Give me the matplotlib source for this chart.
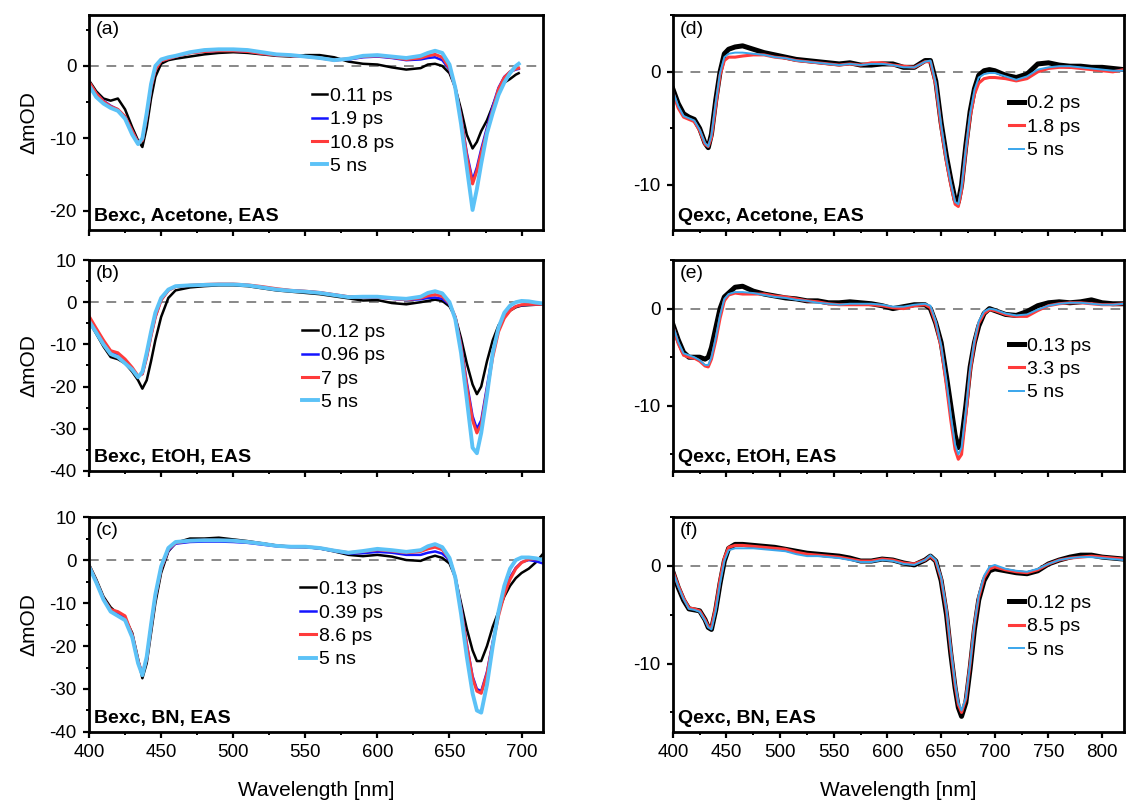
import numpy as np
import matplotlib
matplotlib.use('Agg')
import matplotlib.pyplot as plt
from matplotlib.ticker import MultipleLocator

plt.rcParams['font.family'] = ['Liberation Sans', 'DejaVu Sans']
plt.rcParams['axes.unicode_minus'] = False

# ---- wavelength grids (nm) ----
wl_a = [400, 405, 410, 415, 420, 425, 430, 434, 437, 440, 443, 446, 450, 455, 460, 470, 480, 490,
        500, 510, 520, 530, 540, 550, 560, 570, 580, 590, 600, 610, 620, 630, 635, 640, 645, 650,
        654, 658, 662, 666, 669, 672, 676, 680, 684, 688, 692, 696, 698]
wl_bc = [400, 405, 410, 415, 420, 425, 430, 434, 437, 440, 443, 446, 450, 455, 460, 470, 480, 490,
         500, 510, 520, 530, 540, 550, 560, 570, 580, 590, 600, 610, 620, 630, 635, 640, 645, 650,
         654, 658, 662, 666, 669, 672, 676, 680, 684, 688, 692, 696, 700, 705, 710, 715]
wl_def = [400, 405, 410, 415, 420, 425, 430, 433, 436, 440, 444, 448, 452, 458, 465, 475, 485, 495,
          505, 515, 525, 535, 545, 555, 565, 575, 585, 595, 605, 615, 625, 635, 640, 645, 650, 655,
          659, 663, 666, 669, 673, 677, 681, 685, 690, 695, 700, 710, 720, 730, 740, 750, 760, 770,
          780, 790, 800, 810, 820]

# ---- (a) Bexc, Acetone ----
a_011ps = [-2.0, -3.5, -4.5, -4.8, -4.5, -6.0, -8.5, -10.3, -11.2, -8.5, -4.5, -1.5, 0.3, 0.8, 1.0,
           1.3, 1.6, 1.8, 1.9, 1.8, 1.6, 1.4, 1.3, 1.5, 1.5, 1.2, 0.6, 0.3, 0.2, -0.2, -0.5, -0.3,
           0.2, 0.3, 0.0, -1.0, -3.0, -6.0, -9.5, -11.4, -10.5, -9.0, -7.5, -5.5, -3.5, -2.3, -1.8,
           -1.2, -1.0]
a_19ps = [-2.2, -3.8, -4.8, -5.5, -6.0, -7.0, -9.0, -10.5, -10.2, -7.0, -3.0, -0.5, 0.7, 1.0, 1.3,
          1.8, 2.0, 2.1, 2.1, 2.0, 1.7, 1.5, 1.4, 1.3, 1.1, 0.8, 0.9, 1.2, 1.3, 1.1, 0.8, 0.9, 1.1,
          1.2, 0.8, -0.5, -3.0, -7.0, -12.0, -15.8, -14.0, -11.5, -8.5, -5.5, -3.0, -1.5, -0.8,
          -0.5, -0.4]
a_108ps = [-2.2, -3.8, -4.9, -5.6, -6.0, -7.0, -9.0, -10.6, -10.3, -7.0, -3.0, -0.5, 0.7, 1.0, 1.3,
           1.8, 2.0, 2.1, 2.1, 2.0, 1.7, 1.5, 1.4, 1.3, 1.1, 0.8, 1.0, 1.3, 1.4, 1.2, 0.9, 1.1, 1.4,
           1.6, 1.2, -0.3, -3.0, -7.2, -12.5, -16.3, -14.5, -12.0, -9.0, -6.0, -3.2, -1.6, -0.8,
           -0.4, -0.3]
a_5ns = [-2.7, -4.3, -5.2, -5.8, -6.2, -7.3, -9.5, -10.8, -10.0, -6.5, -2.5, 0.0, 0.9, 1.2, 1.4,
         1.9, 2.2, 2.3, 2.3, 2.2, 1.9, 1.6, 1.5, 1.3, 1.1, 0.8, 1.0, 1.4, 1.5, 1.3, 1.1, 1.4, 1.8,
         2.1, 1.8, 0.2, -3.0, -8.0, -14.0, -19.9, -17.0, -13.5, -9.3, -6.5, -4.0, -2.3, -1.0, 0.0,
         0.3]

# ---- (b) Bexc, EtOH ----
b_012ps = [-4.5, -7.5, -10.5, -13.0, -13.5, -14.5, -16.5, -18.5, -20.5, -18.5, -14.0, -9.0, -3.5,
           1.0, 2.8, 3.5, 3.8, 4.0, 4.0, 3.8, 3.3, 2.8, 2.5, 2.2, 1.9, 1.4, 0.9, 0.4, 0.5, -0.2,
           -0.5, 0.0, 0.3, 0.6, 0.3, -1.0, -3.5, -8.5, -14.5, -19.5, -21.8, -20.0, -14.0, -9.0,
           -5.5, -3.5, -2.0, -1.2, -0.8, -0.7, -0.6, -0.5]
b_096ps = [-4.3, -7.0, -9.8, -12.0, -12.5, -14.0, -15.8, -17.5, -17.0, -13.0, -8.0, -3.5, 0.5,
           2.8, 3.7, 4.0, 4.1, 4.2, 4.2, 4.0, 3.6, 3.1, 2.8, 2.6, 2.3, 1.8, 1.3, 1.2, 1.1, 0.8, 0.5,
           0.7, 1.0, 1.1, 0.8, -0.5, -3.5, -10.0, -19.0, -27.0, -30.0, -28.0, -20.0, -12.0, -6.5,
           -3.5, -1.8, -1.0, -0.7, -0.6, -0.5, -0.5]
b_7ps = [-3.3, -6.2, -9.0, -11.5, -12.0, -13.5, -15.5, -17.5, -17.0, -13.0, -8.0, -3.5, 0.5, 2.8,
         3.7, 4.0, 4.2, 4.3, 4.3, 4.1, 3.7, 3.2, 2.8, 2.6, 2.3, 1.8, 1.3, 1.3, 1.2, 0.9, 0.6, 1.0,
         1.5, 1.8, 1.4, -0.3, -3.5, -10.5, -20.0, -28.0, -31.0, -29.0, -21.0, -13.0, -7.0, -3.8,
         -2.0, -1.0, -0.6, -0.5, -0.5, -0.5]
b_5ns = [-4.5, -7.2, -10.0, -12.3, -13.0, -14.5, -16.0, -17.8, -16.5, -12.0, -7.0, -2.5, 1.0, 3.0,
         3.8, 4.0, 4.1, 4.2, 4.2, 4.0, 3.5, 3.0, 2.7, 2.5, 2.2, 1.7, 1.2, 1.3, 1.3, 1.0, 0.8, 1.3,
         2.2, 2.6, 2.1, 0.0, -4.0, -12.0, -23.0, -34.5, -35.8, -31.0, -22.0, -12.0, -6.0, -2.5,
         -0.8, 0.0, 0.3, 0.2, -0.1, -0.3]

# ---- (c) Bexc, BN ----
c_013ps = [-1.0, -4.5, -8.5, -11.0, -12.5, -13.5, -17.0, -23.0, -27.5, -24.0, -17.0, -10.0, -3.0,
           2.0, 4.0, 5.0, 5.0, 5.2, 4.8, 4.4, 3.9, 3.4, 3.1, 3.0, 2.7, 2.0, 1.2, 0.9, 1.2, 0.8, 0.0,
           -0.2, 0.5, 1.0, 0.5, -0.8, -4.0, -10.0, -16.0, -21.0, -23.5, -23.5, -20.0, -15.5, -12.0,
           -8.5, -6.0, -4.2, -3.0, -2.0, -0.5, 1.5]
c_039ps = [-1.5, -5.0, -9.0, -11.8, -12.5, -13.5, -17.5, -23.5, -26.5, -23.0, -15.5, -8.5, -2.0,
           2.2, 3.8, 4.2, 4.3, 4.3, 4.2, 4.0, 3.6, 3.2, 3.0, 3.0, 2.7, 2.1, 1.5, 1.6, 1.9, 1.7, 1.2,
           1.2, 1.7, 2.0, 1.5, 0.0, -4.0, -11.0, -19.5, -27.0, -30.0, -30.5, -26.0, -19.0, -12.5,
           -7.5, -4.0, -1.8, -0.5, 0.0, -0.3, -0.8]
c_86ps = [-1.3, -5.0, -9.0, -11.5, -12.0, -13.0, -17.5, -23.5, -26.5, -23.0, -15.5, -8.5, -2.0,
          2.5, 4.0, 4.5, 4.6, 4.6, 4.5, 4.2, 3.8, 3.3, 3.1, 3.1, 2.8, 2.2, 1.7, 2.0, 2.4, 2.1, 1.7,
          2.0, 2.6, 3.0, 2.4, 0.3, -4.0, -11.5, -20.0, -27.5, -30.5, -31.0, -26.5, -19.5, -13.0,
          -8.0, -4.5, -2.0, -0.6, 0.2, 0.3, 0.0]
c_5ns = [-1.5, -5.2, -9.2, -12.0, -13.0, -14.0, -18.0, -24.0, -26.8, -22.5, -15.0, -8.0, -1.5,
         2.8, 4.2, 4.5, 4.6, 4.6, 4.5, 4.2, 3.8, 3.3, 3.1, 3.1, 2.8, 2.2, 1.7, 2.1, 2.6, 2.3, 1.9,
         2.3, 3.2, 3.7, 3.0, 0.5, -4.0, -12.5, -22.5, -31.0, -35.0, -35.5, -29.0, -20.0, -12.0,
         -6.0, -2.0, 0.0, 0.6, 0.6, 0.4, 0.0]

# ---- (d) Qexc, Acetone ----
d_02ps = [-1.5, -2.8, -3.7, -4.0, -4.2, -5.0, -6.3, -6.7, -5.5, -2.5, 0.0, 1.6, 2.0, 2.2, 2.3, 2.0,
          1.7, 1.5, 1.3, 1.1, 1.0, 0.9, 0.8, 0.7, 0.8, 0.6, 0.6, 0.7, 0.7, 0.4, 0.4, 1.0, 1.0, -0.8,
          -4.5, -7.5, -9.5, -11.3, -11.5, -10.0, -6.5, -3.5, -1.5, -0.3, 0.1, 0.2, 0.1, -0.3, -0.5,
          -0.2, 0.7, 0.8, 0.6, 0.5, 0.5, 0.4, 0.4, 0.3, 0.2]
d_18ps = [-1.8, -3.2, -4.0, -4.2, -4.4, -5.2, -6.4, -6.6, -5.8, -3.0, -0.3, 1.0, 1.3, 1.3, 1.4, 1.5,
          1.5, 1.3, 1.2, 1.0, 0.9, 0.8, 0.7, 0.6, 0.7, 0.6, 0.8, 0.8, 0.6, 0.5, 0.4, 0.9, 0.9, -1.2,
          -5.0, -8.0, -10.0, -11.7, -11.9, -10.5, -7.0, -4.0, -2.0, -1.0, -0.6, -0.5, -0.5, -0.6,
          -0.8, -0.6, 0.0, 0.3, 0.4, 0.4, 0.3, 0.2, 0.1, 0.0, 0.2]
d_5ns = [-1.7, -3.0, -3.9, -4.1, -4.3, -5.1, -6.3, -6.6, -5.6, -2.7, -0.1, 1.3, 1.6, 1.7, 1.7, 1.6,
         1.5, 1.3, 1.2, 1.0, 0.9, 0.8, 0.7, 0.6, 0.7, 0.6, 0.7, 0.7, 0.6, 0.4, 0.4, 0.9, 1.0, -1.0,
         -4.7, -7.8, -9.8, -11.5, -11.7, -10.2, -6.8, -3.7, -1.6, -0.5, -0.2, -0.1, -0.1, -0.4,
         -0.7, -0.4, 0.2, 0.4, 0.5, 0.5, 0.4, 0.3, 0.2, 0.1, 0.1]

# ---- (e) Qexc, EtOH ----
e_013ps = [-1.6, -3.2, -4.5, -5.0, -5.0, -5.0, -5.2, -5.0, -4.0, -2.0, 0.0, 1.2, 1.6, 2.2, 2.3, 1.8,
           1.5, 1.3, 1.1, 1.0, 0.8, 0.8, 0.6, 0.6, 0.7, 0.6, 0.5, 0.3, 0.0, 0.2, 0.4, 0.4, 0.0,
           -1.5, -3.5, -7.0, -10.0, -13.0, -14.3, -13.5, -10.0, -6.0, -3.5, -1.8, -0.5, 0.0, -0.2,
           -0.6, -0.7, -0.3, 0.3, 0.6, 0.7, 0.6, 0.7, 0.9, 0.6, 0.5, 0.5]
e_33ps = [-1.8, -3.6, -4.8, -5.0, -5.1, -5.4, -5.9, -6.0, -5.2, -3.3, -1.0, 0.8, 1.4, 1.6, 1.5, 1.5,
          1.5, 1.3, 1.2, 1.0, 0.8, 0.7, 0.5, 0.4, 0.4, 0.4, 0.4, 0.3, 0.1, 0.0, 0.3, 0.4, 0.1, -1.5,
          -4.0, -8.0, -11.5, -14.5, -15.5, -15.0, -11.0, -6.5, -3.5, -1.5, -0.5, -0.1, -0.2, -0.6,
          -0.8, -0.8, -0.2, 0.3, 0.5, 0.6, 0.6, 0.5, 0.4, 0.4, 0.5]
e_5ns = [-1.7, -3.4, -4.6, -4.8, -5.0, -5.3, -5.8, -5.8, -5.0, -3.0, -0.7, 1.0, 1.5, 1.7, 1.7, 1.6,
         1.4, 1.2, 1.1, 0.9, 0.8, 0.6, 0.5, 0.4, 0.5, 0.5, 0.5, 0.4, 0.2, 0.2, 0.4, 0.5, 0.3, -1.3,
         -3.8, -7.5, -11.0, -14.0, -15.0, -14.3, -10.5, -6.2, -3.3, -1.3, -0.3, 0.0, -0.1, -0.5,
         -0.7, -0.6, -0.1, 0.3, 0.5, 0.6, 0.6, 0.5, 0.4, 0.4, 0.5]

# ---- (f) Qexc, BN ----
f_012ps = [-0.6, -2.2, -3.5, -4.4, -4.5, -4.6, -5.5, -6.3, -6.5, -4.5, -1.8, 0.5, 1.8, 2.2, 2.2, 2.1,
           2.0, 1.9, 1.7, 1.5, 1.3, 1.2, 1.1, 1.0, 0.8, 0.5, 0.5, 0.7, 0.6, 0.3, 0.1, 0.6, 1.0, 0.5,
           -1.5, -5.0, -9.0, -12.5, -14.5, -15.4, -14.0, -10.5, -6.5, -3.5, -1.5, -0.5, -0.3, -0.5,
           -0.7, -0.8, -0.5, 0.2, 0.6, 0.9, 1.1, 1.1, 0.9, 0.8, 0.7]
f_85ps = [-0.5, -2.0, -3.3, -4.3, -4.4, -4.6, -5.5, -6.2, -6.3, -4.2, -1.4, 0.8, 1.9, 2.1, 2.1, 2.0,
          1.9, 1.8, 1.7, 1.4, 1.2, 1.1, 1.0, 0.9, 0.7, 0.5, 0.5, 0.7, 0.6, 0.3, 0.2, 0.6, 1.0, 0.5,
          -1.3, -4.6, -8.6, -12.2, -14.2, -15.0, -13.6, -10.0, -6.0, -3.2, -1.2, -0.3, -0.1, -0.4,
          -0.6, -0.7, -0.4, 0.2, 0.6, 0.8, 0.9, 1.0, 0.9, 0.8, 0.7]
f_5ns = [-0.6, -2.1, -3.4, -4.4, -4.5, -4.7, -5.6, -6.3, -6.5, -4.6, -1.8, 0.5, 1.6, 1.8, 1.8, 1.8,
         1.7, 1.6, 1.5, 1.2, 1.0, 1.0, 0.9, 0.8, 0.6, 0.4, 0.4, 0.6, 0.5, 0.2, 0.1, 0.6, 1.1, 0.6,
         -1.2, -4.5, -8.5, -12.0, -14.0, -14.8, -13.5, -10.0, -6.0, -3.0, -1.0, -0.1, 0.1, -0.3,
         -0.5, -0.6, -0.3, 0.2, 0.6, 0.8, 0.9, 0.9, 0.8, 0.7, 0.6]

# colours / widths per series position
BLACK, BLUE, RED = '#000000', '#1414ff', '#ff3b3b'
LBLUE_L, LBLUE_R = '#5cc2f7', '#3aa6ec'
left_style = [(BLACK, 1.8), (BLUE, 1.8), (RED, 2.2), (LBLUE_L, 2.8)]
right_style = [(BLACK, 3.6), (RED, 2.2), (LBLUE_R, 1.4)]

panels = [
    # (pos, wl, series, labels, ylim, tag, title, legend x, legend top, style)
    ([0.079, 0.714, 0.403, 0.267], wl_a, [a_011ps, a_19ps, a_108ps, a_5ns],
     ['0.11 ps', '1.9 ps', '10.8 ps', '5 ns'], (-22.7, 7), '(a)', 'Bexc, Acetone, EAS', 0.49, 0.665, left_style),
    ([0.079, 0.415, 0.403, 0.262], wl_bc, [b_012ps, b_096ps, b_7ps, b_5ns],
     ['0.12 ps', '0.96 ps', '7 ps', '5 ns'], (-40, 10), '(b)', 'Bexc, EtOH, EAS', 0.47, 0.70, left_style),
    ([0.079, 0.0907, 0.403, 0.267], wl_bc, [c_013ps, c_039ps, c_86ps, c_5ns],
     ['0.13 ps', '0.39 ps', '8.6 ps', '5 ns'], (-40, 10), '(c)', 'Bexc, BN, EAS', 0.465, 0.705, left_style),
    ([0.597, 0.714, 0.400, 0.267], wl_def, [d_02ps, d_18ps, d_5ns],
     ['0.2 ps', '1.8 ps', '5 ns'], (-14, 5), '(d)', 'Qexc, Acetone, EAS', 0.745, 0.63, right_style),
    ([0.597, 0.415, 0.400, 0.262], wl_def, [e_013ps, e_33ps, e_5ns],
     ['0.13 ps', '3.3 ps', '5 ns'], (-16.7, 5), '(e)', 'Qexc, EtOH, EAS', 0.745, 0.635, right_style),
    ([0.597, 0.0907, 0.400, 0.267], wl_def, [f_012ps, f_85ps, f_5ns],
     ['0.12 ps', '8.5 ps', '5 ns'], (-17, 5), '(f)', 'Qexc, BN, EAS', 0.745, 0.64, right_style),
]

fig = plt.figure(figsize=(11.27, 8.05), dpi=100)

for i, (pos, wl, series, labels, ylim, tag, title, lx, ly, style) in enumerate(panels):
    ax = fig.add_axes(pos)
    left_col = i < 3
    for ys, lab, (col, lw) in zip(series, labels, style):
        ax.plot(wl, ys, color=col, lw=lw, label=lab, solid_joinstyle='round')
    ax.axhline(0, color='#888888', lw=1.4, ls=(0, (5, 4)), zorder=0)

    ax.set_xlim(400, 715 if left_col else 820)
    ax.set_ylim(*ylim)
    ax.xaxis.set_major_locator(MultipleLocator(50))
    ax.xaxis.set_minor_locator(MultipleLocator(25))
    ax.yaxis.set_major_locator(MultipleLocator(10))
    ax.yaxis.set_minor_locator(MultipleLocator(5))
    ax.tick_params(which='major', direction='out', length=4, width=1.6, labelsize=13.5,
                   pad=5, top=False, right=False)
    ax.tick_params(which='minor', direction='out', length=2.5, width=1.4, top=False, right=False)
    for sp in ax.spines.values():
        sp.set_linewidth(2.0)

    if i in (2, 5):
        ax.set_xlabel('Wavelength [nm]', fontsize=15, labelpad=14)
    else:
        ax.tick_params(axis='x', labelbottom=False)
    if left_col:
        ax.set_ylabel('\u0394mOD', fontsize=15, labelpad=8)

    ax.text(0.015, 0.975, tag, transform=ax.transAxes, fontsize=14, va='top', ha='left')
    ax.text(0.012, 0.025, title, transform=ax.transAxes, fontsize=14, fontweight='bold',
            va='bottom', ha='left')

    ax.legend(loc='upper left', bbox_to_anchor=(lx, ly), frameon=False, fontsize=14,
              handlelength=0.8, handletextpad=0.15, labelspacing=0.3,
              borderpad=0, borderaxespad=0)

fig.savefig('out.png', dpi=100)
